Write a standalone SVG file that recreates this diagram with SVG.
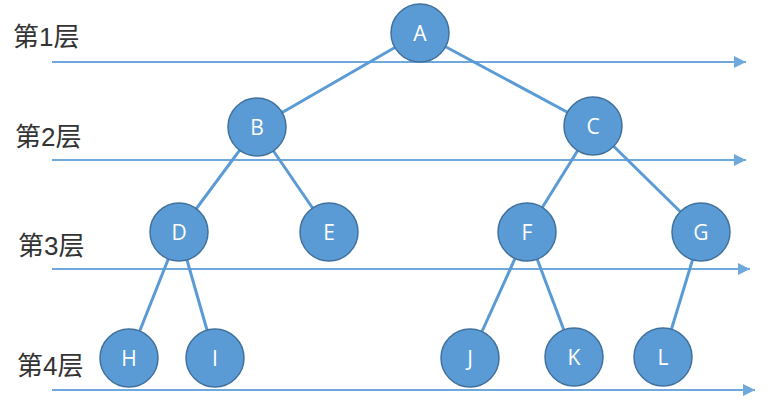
<svg xmlns="http://www.w3.org/2000/svg" width="784" height="406" viewBox="0 0 784 406">
<style>
.lvl{stroke:#6fa8dc;stroke-width:2;fill:none}
.edge{stroke:#5b9bd5;stroke-width:3;fill:none}
.node circle{fill:#5b9bd5;stroke:#41719c;stroke-width:1.5}
.node text{fill:#ffffff;font-family:"Open Sans","Liberation Sans",sans-serif;font-size:21px;text-anchor:middle;dominant-baseline:central}
.lab{fill:#333333;font-family:"Liberation Sans","Noto Sans CJK SC",sans-serif;font-size:26px}
</style>
<defs>
<marker id="arr" viewBox="0 0 10 10" refX="10" refY="5" markerWidth="6" markerHeight="6" markerUnits="strokeWidth" orient="auto">
<path d="M0,0 L10,5 L0,10 z" fill="#6fa8dc"/>
</marker>
</defs>
<g id="labels">
<text class="lab" x="13" y="46">第1层</text>
<text class="lab" x="15" y="146">第2层</text>
<text class="lab" x="18" y="255">第3层</text>
<text class="lab" x="17" y="375">第4层</text>
</g>
<g id="levels">
<line class="lvl" x1="52" y1="62" x2="746" y2="62" marker-end="url(#arr)"/>
<line class="lvl" x1="52" y1="160" x2="746" y2="160" marker-end="url(#arr)"/>
<line class="lvl" x1="52" y1="269" x2="750" y2="269" marker-end="url(#arr)"/>
<line class="lvl" x1="52" y1="390" x2="755" y2="390" marker-end="url(#arr)"/>
</g>
<g id="connectors">
<line class="edge" x1="420" y1="33" x2="257" y2="127"/>
<line class="edge" x1="420" y1="33" x2="593" y2="126"/>
<line class="edge" x1="257" y1="127" x2="179" y2="232"/>
<line class="edge" x1="257" y1="127" x2="329" y2="232"/>
<line class="edge" x1="593" y1="126" x2="527" y2="232"/>
<line class="edge" x1="593" y1="126" x2="701" y2="232"/>
<line class="edge" x1="179" y1="232" x2="129" y2="358"/>
<line class="edge" x1="179" y1="232" x2="215" y2="358"/>
<line class="edge" x1="527" y1="232" x2="470" y2="358"/>
<line class="edge" x1="527" y1="232" x2="574" y2="357"/>
<line class="edge" x1="701" y1="232" x2="663" y2="357"/>
</g>
<g id="A" class="node"><circle cx="420" cy="33" r="29"/><text x="420" y="33">A</text></g>
<g id="B" class="node"><circle cx="257" cy="127" r="29"/><text x="257" y="127">B</text></g>
<g id="C" class="node"><circle cx="593" cy="126" r="29"/><text x="593" y="126">C</text></g>
<g id="D" class="node"><circle cx="179" cy="232" r="29"/><text x="179" y="232">D</text></g>
<g id="E" class="node"><circle cx="329" cy="232" r="29"/><text x="329" y="232">E</text></g>
<g id="F" class="node"><circle cx="527" cy="232" r="29"/><text x="527" y="232">F</text></g>
<g id="G" class="node"><circle cx="701" cy="232" r="29"/><text x="701" y="232">G</text></g>
<g id="H" class="node"><circle cx="129" cy="358" r="29"/><text x="129" y="358">H</text></g>
<g id="I" class="node"><circle cx="215" cy="358" r="29"/><text x="215" y="358">I</text></g>
<g id="J" class="node"><circle cx="470" cy="358" r="29"/><text x="470" y="358">J</text></g>
<g id="K" class="node"><circle cx="574" cy="357" r="29"/><text x="574" y="357">K</text></g>
<g id="L" class="node"><circle cx="663" cy="357" r="29"/><text x="663" y="357">L</text></g>
</svg>
